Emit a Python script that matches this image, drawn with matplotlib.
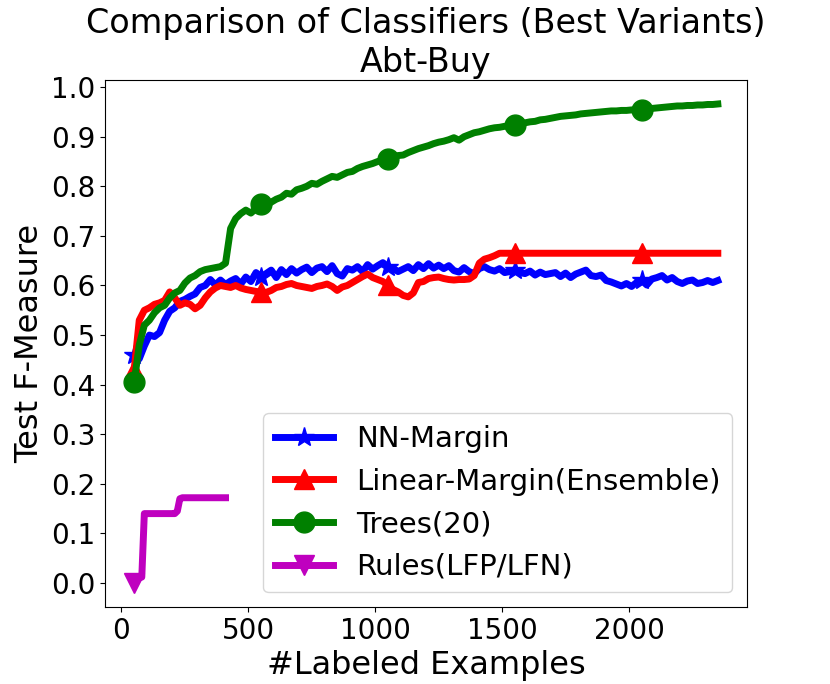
import matplotlib
matplotlib.use('Agg')
import matplotlib.pyplot as plt
import numpy as np

# number of labeled examples (every 20)
n_labeled = np.arange(50, 2351, 20)

nn_margin = [
    0.46, 0.452, 0.478, 0.50, 0.497, 0.505, 0.53, 0.548, 0.555, 0.568,
    0.572, 0.578, 0.583, 0.596, 0.60, 0.612, 0.601, 0.611, 0.602, 0.609,
    0.614, 0.603, 0.617, 0.608, 0.626, 0.618, 0.624, 0.631, 0.616, 0.632,
    0.622, 0.634, 0.625, 0.632, 0.637, 0.626, 0.635, 0.638, 0.628, 0.64,
    0.624, 0.619, 0.634, 0.631, 0.638, 0.628, 0.642, 0.633, 0.64, 0.646,
    0.638, 0.635, 0.628, 0.633, 0.638, 0.63, 0.642, 0.634, 0.644, 0.635,
    0.641, 0.634, 0.64, 0.63, 0.627, 0.636, 0.628, 0.624, 0.634, 0.638,
    0.632, 0.629, 0.634, 0.626, 0.628, 0.632, 0.626, 0.624, 0.629, 0.621,
    0.627, 0.622, 0.624, 0.626, 0.618, 0.625, 0.616, 0.623, 0.627, 0.631,
    0.62, 0.618, 0.621, 0.61, 0.607, 0.603, 0.599, 0.604, 0.598, 0.606,
    0.611, 0.601, 0.613, 0.616, 0.62, 0.611, 0.616, 0.608, 0.604, 0.609,
    0.611, 0.604, 0.606, 0.61, 0.606, 0.61,
]

linear_margin = [
    0.43, 0.53, 0.55, 0.555, 0.562, 0.565, 0.57, 0.587, 0.575, 0.56,
    0.565, 0.562, 0.553, 0.56, 0.575, 0.587, 0.595, 0.60, 0.598, 0.596,
    0.60, 0.595, 0.592, 0.59, 0.588, 0.587, 0.586, 0.59, 0.596, 0.598,
    0.602, 0.604, 0.60, 0.598, 0.596, 0.594, 0.598, 0.60, 0.603, 0.598,
    0.59, 0.597, 0.60, 0.606, 0.612, 0.618, 0.623, 0.616, 0.612, 0.608,
    0.60, 0.592, 0.587, 0.58, 0.577, 0.585, 0.606, 0.608, 0.614, 0.616,
    0.617, 0.614, 0.612, 0.611, 0.612, 0.612, 0.613, 0.62, 0.645, 0.653,
    0.656, 0.66, 0.665,
] + [0.665] * 43

trees = [
    0.405, 0.48, 0.52, 0.53, 0.545, 0.555, 0.56, 0.575, 0.585, 0.59,
    0.605, 0.615, 0.62, 0.628, 0.632, 0.634, 0.636, 0.638, 0.645, 0.715,
    0.735, 0.745, 0.752, 0.746, 0.755, 0.765, 0.762, 0.768, 0.774, 0.778,
    0.786, 0.784, 0.793, 0.796, 0.80, 0.806, 0.804, 0.81, 0.815, 0.82,
    0.818, 0.823, 0.828, 0.83, 0.836, 0.84, 0.843, 0.846, 0.85, 0.853,
    0.855, 0.858, 0.862, 0.863, 0.868, 0.872, 0.876, 0.879, 0.882, 0.886,
    0.889, 0.891, 0.894, 0.898, 0.893, 0.90, 0.904, 0.908, 0.91, 0.913,
    0.916, 0.918, 0.919, 0.921, 0.922, 0.924, 0.926, 0.928, 0.93, 0.931,
    0.934, 0.935, 0.937, 0.939, 0.941, 0.942, 0.943, 0.944, 0.946, 0.947,
    0.948, 0.949, 0.95, 0.951, 0.952, 0.952, 0.953, 0.953, 0.954, 0.954,
    0.954, 0.955, 0.957, 0.958, 0.959, 0.96, 0.961, 0.962, 0.962, 0.963,
    0.963, 0.964, 0.964, 0.965, 0.965, 0.966,
]

# rules only run for the first few hundred examples (every 10)
n_labeled_rules = np.arange(50, 411, 10)
rules = [
    0.0, 0.005, 0.01, 0.012, 0.14, 0.14, 0.14, 0.14, 0.14, 0.14,
    0.14, 0.14, 0.14, 0.14, 0.14, 0.14, 0.14, 0.145, 0.17, 0.172,
    0.172, 0.172, 0.172, 0.172, 0.172, 0.172, 0.172, 0.172, 0.172, 0.172,
    0.172, 0.172, 0.172, 0.172, 0.172, 0.172, 0.172,
]

fig = plt.figure(figsize=(8.3, 6.84), dpi=100)
ax = fig.add_subplot(111)
fig.subplots_adjust(left=0.1265, right=0.9, top=0.883, bottom=0.1126)

lw = 5
ms = 15
ax.plot(n_labeled, nn_margin, 'b-', marker='*', lw=lw, ms=ms, markevery=25,
        label='NN-Margin')
ax.plot(n_labeled, linear_margin, 'r-', marker='^', lw=lw, ms=ms, markevery=25,
        label='Linear-Margin(Ensemble)')
ax.plot(n_labeled, trees, 'g-', marker='o', lw=lw, ms=ms, markevery=25,
        label='Trees(20)')
ax.plot(n_labeled_rules, rules, 'm-', marker='v', lw=lw, ms=ms, markevery=50,
        label='Rules(LFP/LFN)')

ax.set_title('Comparison of Classifiers (Best Variants)\nAbt-Buy', fontsize=24)
ax.set_xlabel('#Labeled Examples', fontsize=23)
ax.set_ylabel('Test F-Measure', fontsize=23)
ax.set_xticks([0, 500, 1000, 1500, 2000])
ax.set_yticks(np.arange(0, 1.01, 0.1))
ax.tick_params(labelsize=20)
ax.legend(loc='lower right', fontsize=21, numpoints=1)

fig.savefig('out.png', dpi=100)
